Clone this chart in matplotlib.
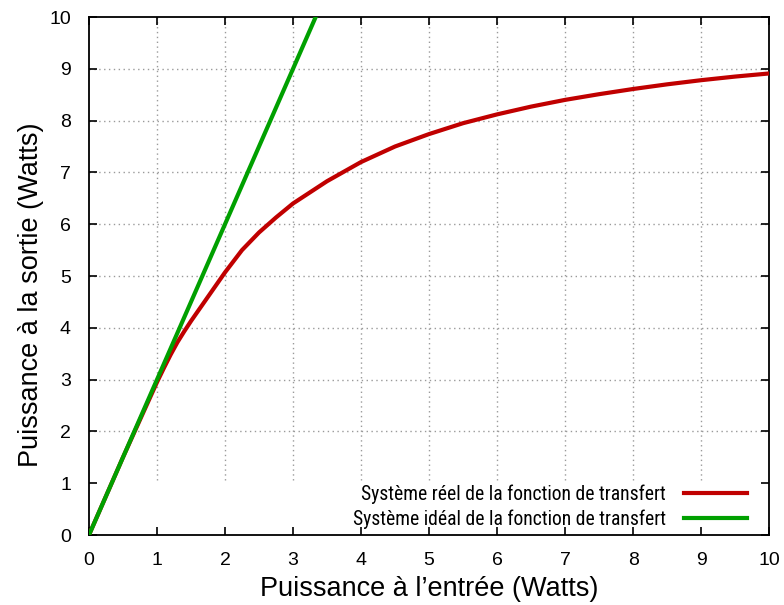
import matplotlib
matplotlib.use("Agg")
import matplotlib.pyplot as plt

# puissance d'entrée / sortie (W)
x_ideal = [0, 10 / 3]
y_ideal = [0, 10]

x_reel = [0, 0.5, 1.0, 1.1, 1.2, 1.3, 1.4, 1.5, 1.75, 2.0, 2.25, 2.5, 2.75, 3.0, 3.5, 4.0, 4.5,
          5.0, 5.5, 6.0, 6.5, 7.0, 7.5, 8.0, 8.5, 9.0, 9.5, 10.0]
y_reel = [0, 1.5, 2.95, 3.22, 3.48, 3.72, 3.93, 4.13, 4.6, 5.07, 5.5, 5.84, 6.13, 6.4, 6.83, 7.2, 7.5,
          7.74, 7.95, 8.12, 8.27, 8.40, 8.51, 8.61, 8.70, 8.78, 8.85, 8.91]

ticks = list(range(0, 11))
lbl_reel = "Système réel de la fonction de transfert"
lbl_ideal = "Système idéal de la fonction de transfert"

plt.rcParams["font.family"] = ["Liberation Sans", "DejaVu Sans"]

fig = plt.figure(figsize=(7.84, 6.05), dpi=100)
ax = fig.add_axes([0.1135, 0.1157, 0.8675, 0.8562])

# grille pointillée façon gnuplot
ax.vlines(ticks[1:-1], 1.07, 10, colors="#9a9a9a", linestyles=(0, (1, 2.5)), lw=1, zorder=1)
ax.hlines(ticks[2:-1], 0, 10, colors="#9a9a9a", linestyles=(0, (1, 2.5)), lw=1, zorder=1)

ax.plot(x_reel, y_reel, color="#c00000", lw=3, label=lbl_reel, zorder=3,
        solid_joinstyle="round")
ax.plot(x_ideal, y_ideal, color="#00a000", lw=3, label=lbl_ideal, zorder=4)

ax.set_xlim(0, 10)
ax.set_ylim(0, 10)
ax.set_xticks(ticks)
ax.set_yticks(ticks)
ax.tick_params(direction="in", length=6, width=1.2, top=True, right=True,
               labelsize=14)
ax.tick_params(axis="y", pad=13)
ax.tick_params(axis="x", pad=12)
for s in ax.spines.values():
    s.set_linewidth(1.3)

ax.set_xlabel("Puissance à l\u2019entrée (Watts)", fontsize=19.5, labelpad=5)
ax.set_ylabel("Puissance à la sortie (Watts)", fontsize=19.5, labelpad=4)
ax.yaxis.label.set_y(0.463)

leg = ax.legend(loc="lower right", bbox_to_anchor=(0.9676, 0.0116),
                markerfirst=False, frameon=False,
                handlelength=3.2, handletextpad=0.93, labelspacing=0.3,
                borderaxespad=0, borderpad=0,
                prop={"family": ["Roboto Condensed", "Liberation Sans Narrow", "Roboto"], "size": 14.1})

fig.savefig("out.png", dpi=100)
